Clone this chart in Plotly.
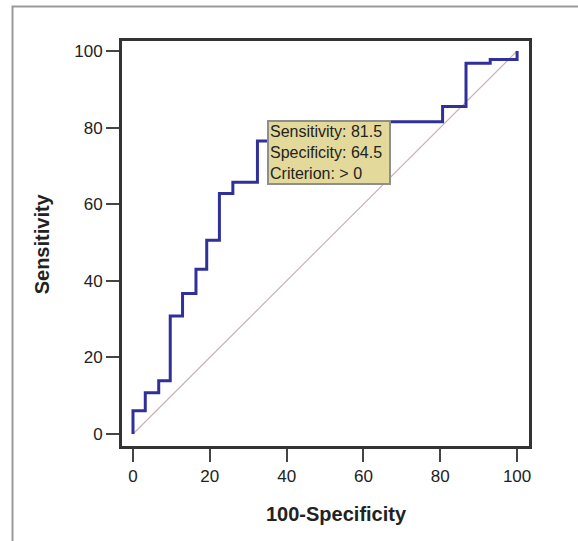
import plotly.graph_objects as go

# ROC step vertices (100-Specificity, Sensitivity), drawn with 'vh' steps
fpr = [0, 3.2, 6.7, 9.7, 12.9, 16.4, 19.2, 22.5, 26.0, 32.4, 35.5, 80.6, 86.7, 93.0, 100, 100]
sens = [0, 6.1, 10.8, 13.9, 30.8, 36.7, 43.0, 50.6, 62.8, 65.7, 76.5, 81.5, 85.5, 96.8, 97.8, 100]
diag_x = [0, 100]
diag_y = [0, 100]
tick_vals = [0, 20, 40, 60, 80, 100]
crit_sens = 81.5
crit_spec = 64.5
crit_label = "> 0"

FONT = "Liberation Sans, Arial, Helvetica, sans-serif"

fig = go.Figure()
fig.add_trace(go.Scatter(x=diag_x, y=diag_y, mode="lines",
                         line=dict(color="#cdb0b6", width=1.2), hoverinfo="skip"))
fig.add_trace(go.Scatter(x=fpr, y=sens, mode="lines", line_shape="vh",
                         line=dict(color="#30309a", width=3)))

fig.add_annotation(
    x=34.8, y=82.1, xref="x", yref="y", xanchor="left", yanchor="top",
    text=f"Sensitivity: {crit_sens}<br>Specificity: {crit_spec}<br>Criterion: {crit_label}",
    showarrow=False, align="left", bgcolor="#e2d99b", bordercolor="#8e8e8e",
    borderwidth=2, borderpad=1, width=118,
    font=dict(family=FONT, size=16, color="#222"),
)

axis_common = dict(
    showline=True, linecolor="#333333", linewidth=3, mirror=True,
    ticks="outside", ticklen=13, tickwidth=2, tickcolor="#444444",
    showgrid=False, zeroline=False, tickvals=tick_vals,
    tickfont=dict(family=FONT, size=17, color="#222"),
)
fig.update_xaxes(range=[-2.86, 103.1], **axis_common)
fig.update_yaxes(range=[-3.13, 102.6], **axis_common)

# axis titles
fig.add_annotation(x=0.526, y=-0.168, xref="paper", yref="paper", text="<b>100-Specificity</b>",
                   showarrow=False, yanchor="middle", xanchor="center",
                   font=dict(family=FONT, size=20, color="#222"))
fig.add_annotation(x=-0.197, y=0.5, xref="paper", yref="paper", text="<b>Sensitivity</b>",
                   showarrow=False, textangle=-90, xanchor="center", yanchor="middle",
                   font=dict(family=FONT, size=20, color="#222"))

# outer gray frame (top and left edges; right/bottom run off the page)
W, H = 578, 541
l, r, t, b = 122, 49, 41, 95
pw, ph = W - l - r, H - t - b
def px(xp):
    return (xp - l) / pw
def py(yp):
    return (H - b - yp) / ph
fig.add_shape(type="rect", xref="paper", yref="paper",
              x0=px(12.5), x1=px(640), y0=py(6.5), y1=py(620),
              line=dict(color="#9a9a9a", width=2), fillcolor="rgba(0,0,0,0)", layer="below")

fig.update_layout(
    width=W, height=H, margin=dict(l=l, r=r, t=t, b=b),
    paper_bgcolor="white", plot_bgcolor="white", showlegend=False,
)
fig.write_html("out.html", config={"displayModeBar": False},
               post_script="document.body.style.margin='0';")
